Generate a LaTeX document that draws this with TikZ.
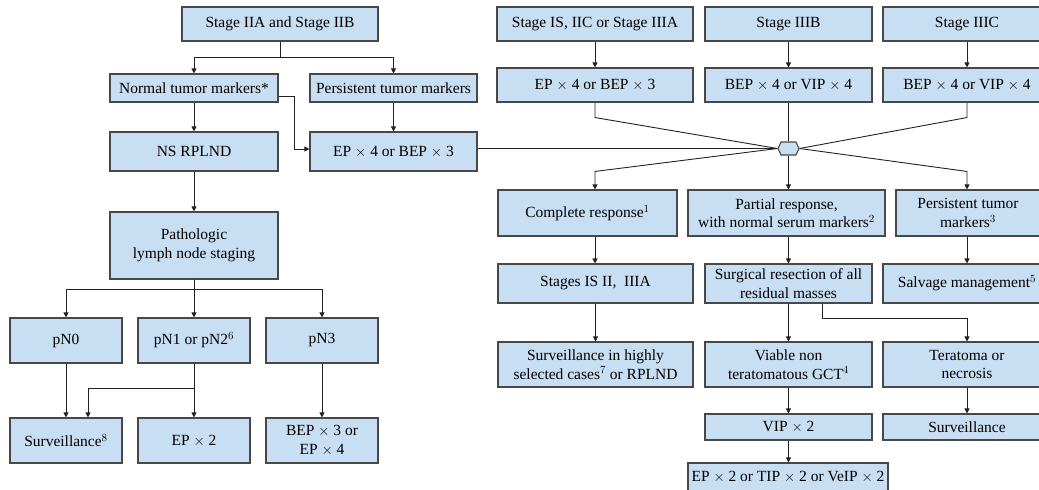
\documentclass[tikz,border=0pt]{standalone}
\usepackage{fontspec}
\setmainfont{Liberation Serif}
\usetikzlibrary{arrows.meta,calc,shapes.symbols}
\definecolor{boxfill}{RGB}{200,222,243}
\definecolor{boxline}{RGB}{72,72,72}
\definecolor{wire}{RGB}{34,34,34}
\newcommand{\tms}{$\times$}
\tikzset{box/.style={draw=boxline, fill=boxfill, line width=1.1pt, inner sep=0pt, align=center, font=\fontsize{15.5}{18.5}\selectfont\rmfamily}}
\tikzset{hubshape/.style={signal, signal to=east and west, signal pointer angle=130, draw=boxline, fill=boxfill, line width=1.1pt, inner sep=0pt, minimum width=21pt, minimum height=13pt}}
\tikzset{link/.style={draw=wire, line width=0.9pt}}
\tikzset{arr/.style={link, -{Triangle[length=5pt,width=5pt]}}}
\begin{document}
\begin{tikzpicture}[x=1pt,y=1pt]
\useasboundingbox (0,0) rectangle (1039,-490);

% ---- left branch: stage IIA / IIB ----
\node[box, minimum width=196pt, minimum height=34pt] (stageII) at (280,-24) {Stage IIA and Stage IIB};
\node[box, minimum width=168pt, minimum height=28pt] (normal) at (194,-88) {Normal tumor markers*};
\node[box, minimum width=167pt, minimum height=28pt] (persistL) at (393.5,-88) {Persistent tumor markers};
\node[box, minimum width=168pt, minimum height=39pt] (nsr) at (194,-151.5) {NS RPLND};
\node[box, minimum width=167pt, minimum height=39pt] (epL) at (393.5,-151.5) {EP \tms{} 4 or BEP \tms{} 3};
\node[box, minimum width=168pt, minimum height=67pt] (path) at (194,-245.5) {Pathologic\\lymph node staging};
\node[box, minimum width=112pt, minimum height=45pt] (pN0) at (66,-340.5) {pN0};
\node[box, minimum width=112pt, minimum height=45pt] (pN1) at (194,-340.5) {pN1 or pN2$^{6}$};
\node[box, minimum width=112pt, minimum height=45pt] (pN3) at (322,-340.5) {pN3};
\node[box, minimum width=112pt, minimum height=45pt] (survL) at (66,-440.5) {Surveillance$^{8}$};
\node[box, minimum width=112pt, minimum height=45pt] (ep2) at (194,-440.5) {EP \tms{} 2};
\node[box, minimum width=112pt, minimum height=45pt] (bep3) at (322,-440.5) {BEP \tms{} 3 or\\EP \tms{} 4};

% ---- right branch: advanced stages ----
\node[box, minimum width=196pt, minimum height=34pt] (stageIS) at (595,-24) {Stage IS, IIC or Stage IIIA};
\node[box, minimum width=167pt, minimum height=34pt] (stageIIIB) at (788.5,-24) {Stage IIIB};
\node[box, minimum width=168pt, minimum height=34pt] (stageIIIC) at (967,-24) {Stage IIIC};
\node[box, minimum width=196pt, minimum height=34pt] (epR) at (595,-85) {EP \tms{} 4 or BEP \tms{} 3};
\node[box, minimum width=167pt, minimum height=34pt] (bepB) at (788.5,-85) {BEP \tms{} 4 or VIP \tms{} 4};
\node[box, minimum width=168pt, minimum height=34pt] (bepC) at (967,-85) {BEP \tms{} 4 or VIP \tms{} 4};
\node[hubshape] (hub) at (788.5,-148.5) {};
\node[box, minimum width=179pt, minimum height=46pt] (complete) at (587.5,-213) {Complete response$^{1}$};
\node[box, minimum width=197pt, minimum height=46pt] (partial) at (786.5,-213) {Partial response,\\with normal serum markers$^{2}$};
\node[box, minimum width=144pt, minimum height=46pt] (persistR) at (968,-213) {Persistent tumor\\markers$^{3}$};
\node[box, minimum width=195pt, minimum height=39pt] (stagesIS2) at (595.5,-283.5) {Stages IS II,\ \ IIIA};
\node[box, minimum width=167pt, minimum height=39pt] (surgical) at (788.5,-283.5) {Surgical resection of all\\residual masses};
\node[box, minimum width=168pt, minimum height=39pt] (salvage) at (967,-283.5) {Salvage management$^{5}$};
\node[box, minimum width=195pt, minimum height=45pt] (survHigh) at (595.5,-364.5) {Surveillance in highly\\selected cases$^{7}$ or RPLND};
\node[box, minimum width=167pt, minimum height=45pt] (viable) at (788.5,-364.5) {Viable non\\teratomatous GCT$^{4}$};
\node[box, minimum width=168pt, minimum height=45pt] (teratoma) at (967,-364.5) {Teratoma or\\necrosis};
\node[box, minimum width=167pt, minimum height=26pt] (vip) at (788.5,-427) {VIP \tms{} 2};
\node[box, minimum width=168pt, minimum height=26pt] (survR) at (967,-427) {Surveillance};
\node[box, minimum width=200pt, minimum height=28pt] (epTip) at (788,-477) {EP \tms{} 2 or TIP \tms{} 2 or VeIP \tms{} 2};

% ---- connectors, left branch ----
\draw[arr] (stageII.south) -- ++(0,-16) -| (normal.north);
\draw[arr] (stageII.south) -- ++(0,-16) -| (persistL.north);
\draw[arr] (normal.south) -- (nsr.north);
\draw[arr] (persistL.south) -- (epL.north);
\draw[arr] ([yshift=-8pt]normal.east) -- ++(16,0) |- ([yshift=2.5pt]epL.west);
\draw[arr] (nsr.south) -- (path.north);
\draw[arr] (path.south) -- ++(0,-10) -| (pN0.north);
\draw[arr] (path.south) -- ++(0,-10) -| (pN3.north);
\draw[arr] (path.south) -- (pN1.north);
\draw[arr] (pN0.south) -- (survL.north);
\draw[arr] (pN1.south) -- (ep2.north);
\draw[arr] (pN1.south) -- ++(0,-25) -| ([xshift=22pt]survL.north);
\draw[arr] (pN3.south) -- (bep3.north);

% ---- connectors, right branch ----
\draw[arr] (stageIS.south) -- (epR.north);
\draw[arr] (stageIIIB.south) -- (bepB.north);
\draw[arr] (stageIIIC.south) -- (bepC.north);
\draw[link] (epR.south) -- ++(0,-15) -- (hub.west);
\draw[link] (bepC.south) -- ++(0,-15) -- (hub.east);
\draw[link] (bepB.south) -- (hub.north);
\draw[link] (epL.east |- hub.west) -- (hub.west);
\draw[arr] (hub.west) -- ($(epR.south |- complete.north)+(0,18)$) -- (epR.south |- complete.north);
\draw[arr] (hub.south) -- (hub.south |- partial.north);
\draw[arr] (hub.east) -- ($(bepC.south |- persistR.north)+(0,18)$) -- (bepC.south |- persistR.north);
\draw[arr] (epR.south |- complete.south) -- (epR.south |- stagesIS2.north);
\draw[arr] (surgical.north |- partial.south) -- (surgical.north);
\draw[arr] (salvage.north |- persistR.south) -- (salvage.north);
\draw[arr] (stagesIS2.south) -- (survHigh.north);
\draw[arr] (surgical.south) -- (viable.north);
\draw[arr] ([xshift=33.5pt]surgical.south) -- ++(0,-15) -| (teratoma.north);
\draw[arr] (viable.south) -- (vip.north);
\draw[arr] (vip.south) -- (vip.south |- epTip.north);
\draw[arr] (teratoma.south) -- (survR.north);
\end{tikzpicture}
\end{document}
